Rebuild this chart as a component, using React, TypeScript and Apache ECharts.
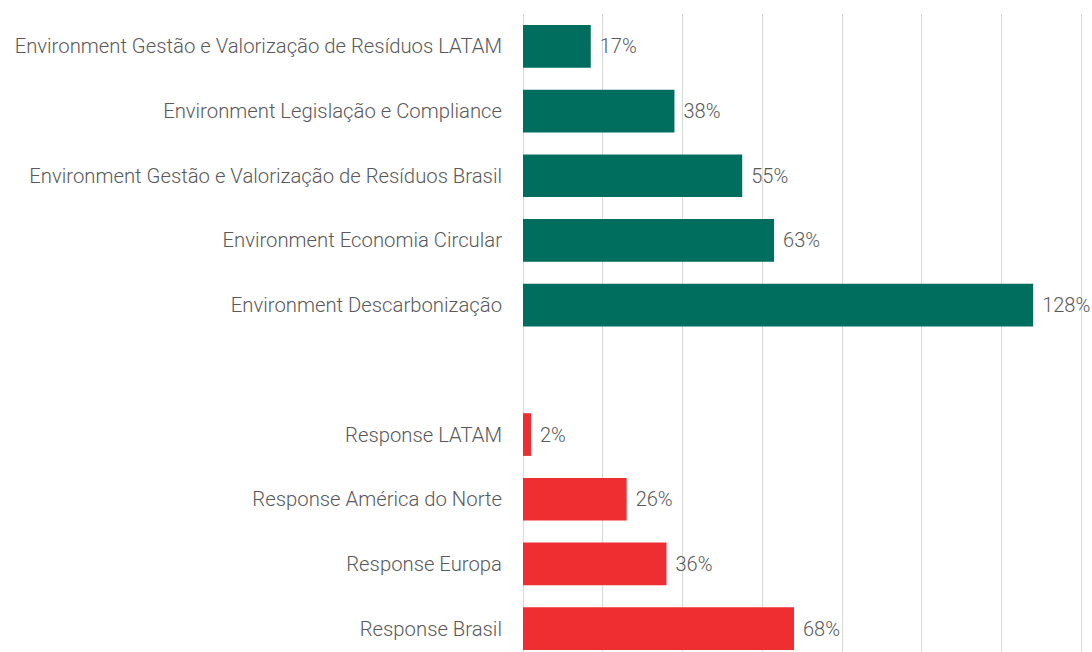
import React, { useEffect, useRef } from "react";
import * as echarts from "echarts";

const categories = [
  "Environment Gestão e Valorização de Resíduos LATAM",
  "Environment Legislação e Compliance",
  "Environment Gestão e Valorização de Resíduos Brasil",
  "Environment Economia Circular",
  "Environment Descarbonização",
  "",
  "Response LATAM",
  "Response América do Norte",
  "Response Europa",
  "Response Brasil",
];
const values: (number | null)[] = [17, 38, 55, 63, 128, null, 2, 26, 36, 68];
const groups = ["env", "env", "env", "env", "env", "", "resp", "resp", "resp", "resp"];
const groupColors: Record<string, string> = { env: "#006E5F", resp: "#EE2E31" };

export default function App() {
  const ref = useRef<HTMLDivElement>(null);
  useEffect(() => {
    document.body.style.margin = "0";
    const chart = echarts.init(ref.current!, null, { renderer: "svg" });
    chart.setOption({
      animation: false,
      grid: { left: 523, right: 11, top: 14, bottom: 0, containLabel: false },
      xAxis: {
        type: "value",
        min: 0,
        max: 140,
        interval: 20,
        axisLabel: { show: false },
        axisLine: { show: false },
        axisTick: { show: false },
        splitLine: { show: true, lineStyle: { color: "#D9D9D9", width: 1 } },
      },
      yAxis: {
        type: "category",
        inverse: true,
        data: categories,
        axisLine: { show: false },
        axisTick: { show: false },
        axisLabel: {
          margin: 21,
          color: "#595959",
          fontFamily: "Roboto",
          fontWeight: 300,
          fontSize: 20.3,
        },
      },
      series: [
        {
          type: "bar",
          barWidth: "66%",
          data: values.map((v, i) => ({
            value: v,
            itemStyle: { color: groupColors[groups[i]] || "#000" },
          })),
          label: {
            show: true,
            position: "right",
            distance: 9,
            formatter: (p: any) => (p.value == null ? "" : `${p.value}%`),
            color: "#595959",
            fontFamily: "Roboto",
            fontWeight: 300,
            fontSize: 20,
          },
        },
      ],
    });
    return () => chart.dispose();
  }, []);
  return (
    <div style={{ width: 1092, height: 652, overflow: "hidden", position: "relative" }}>
      <div ref={ref} style={{ width: 1092, height: 661 }} />
    </div>
  );
}
